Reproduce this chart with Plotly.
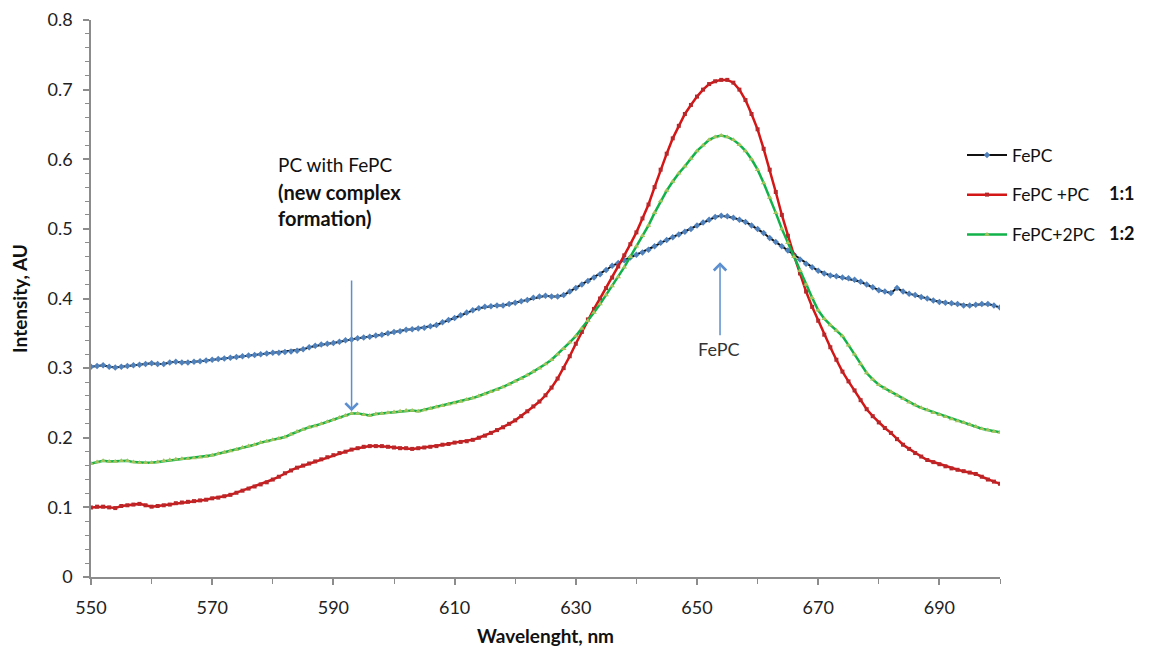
import plotly.graph_objects as go

wavelength = list(range(550, 701))

fepc = [
    0.302, 0.303, 0.304, 0.302, 0.301, 0.302, 0.303, 0.304, 0.305, 0.306,
    0.307, 0.306, 0.306, 0.308, 0.309, 0.308, 0.308, 0.309, 0.310, 0.311,
    0.312, 0.313, 0.314, 0.315, 0.316, 0.317, 0.318, 0.319, 0.320, 0.321,
    0.322, 0.322, 0.323, 0.324, 0.325, 0.327, 0.330, 0.332, 0.334, 0.335,
    0.336, 0.338, 0.340, 0.341, 0.343, 0.344, 0.345, 0.347, 0.348, 0.350,
    0.352, 0.353, 0.355, 0.356, 0.357, 0.358, 0.360, 0.362, 0.366, 0.369,
    0.372, 0.376, 0.380, 0.383, 0.386, 0.388, 0.389, 0.390, 0.390, 0.392,
    0.394, 0.396, 0.398, 0.401, 0.403, 0.404, 0.403, 0.403, 0.405, 0.410,
    0.415, 0.420, 0.425, 0.430, 0.435, 0.441, 0.447, 0.451, 0.455, 0.459,
    0.463, 0.466, 0.470, 0.475, 0.480, 0.484, 0.488, 0.492, 0.496, 0.500,
    0.505, 0.509, 0.513, 0.517, 0.519, 0.518, 0.516, 0.513, 0.510, 0.505,
    0.500, 0.494, 0.487, 0.481, 0.475, 0.469, 0.463, 0.456, 0.450, 0.445,
    0.440, 0.436, 0.433, 0.432, 0.430, 0.429, 0.427, 0.424, 0.420, 0.416,
    0.412, 0.410, 0.408, 0.415, 0.410, 0.407, 0.405, 0.402, 0.400, 0.397,
    0.395, 0.394, 0.393, 0.392, 0.390, 0.390, 0.391, 0.392, 0.392, 0.390,
    0.387,
]

fepc_pc = [
    0.100, 0.101, 0.101, 0.100, 0.099, 0.102, 0.103, 0.104, 0.105, 0.103,
    0.101, 0.102, 0.103, 0.104, 0.106, 0.107, 0.108, 0.109, 0.110, 0.111,
    0.113, 0.114, 0.116, 0.118, 0.121, 0.124, 0.127, 0.130, 0.133, 0.136,
    0.140, 0.144, 0.149, 0.153, 0.157, 0.160, 0.163, 0.166, 0.169, 0.172,
    0.175, 0.178, 0.180, 0.183, 0.185, 0.187, 0.188, 0.188, 0.188, 0.187,
    0.186, 0.185, 0.185, 0.184, 0.185, 0.186, 0.187, 0.188, 0.190, 0.191,
    0.193, 0.194, 0.195, 0.197, 0.200, 0.203, 0.207, 0.211, 0.215, 0.220,
    0.225, 0.231, 0.238, 0.245, 0.252, 0.261, 0.272, 0.285, 0.300, 0.317,
    0.335, 0.352, 0.370, 0.385, 0.400, 0.415, 0.430, 0.446, 0.462, 0.478,
    0.495, 0.515, 0.535, 0.560, 0.585, 0.608, 0.630, 0.648, 0.665, 0.678,
    0.690, 0.700, 0.708, 0.712, 0.714, 0.714, 0.710, 0.700, 0.685, 0.665,
    0.643, 0.615, 0.585, 0.553, 0.520, 0.490, 0.462, 0.436, 0.410, 0.388,
    0.368, 0.348, 0.330, 0.312, 0.295, 0.281, 0.268, 0.254, 0.241, 0.231,
    0.222, 0.214, 0.207, 0.198, 0.190, 0.184, 0.178, 0.173, 0.168, 0.165,
    0.162, 0.159, 0.156, 0.154, 0.152, 0.150, 0.148, 0.144, 0.140, 0.137,
    0.134,
]

fepc_2pc = [
    0.163, 0.165, 0.167, 0.166, 0.166, 0.167, 0.167, 0.165, 0.164, 0.164,
    0.164, 0.165, 0.167, 0.168, 0.169, 0.170, 0.170, 0.171, 0.172, 0.173,
    0.175, 0.177, 0.179, 0.181, 0.183, 0.186, 0.188, 0.190, 0.193, 0.195,
    0.197, 0.199, 0.201, 0.205, 0.209, 0.212, 0.215, 0.217, 0.220, 0.223,
    0.226, 0.229, 0.232, 0.235, 0.235, 0.233, 0.232, 0.234, 0.235, 0.236,
    0.237, 0.238, 0.239, 0.239, 0.238, 0.240, 0.242, 0.244, 0.246, 0.248,
    0.250, 0.252, 0.255, 0.257, 0.260, 0.263, 0.266, 0.269, 0.273, 0.277,
    0.281, 0.285, 0.290, 0.295, 0.300, 0.306, 0.312, 0.320, 0.328, 0.337,
    0.346, 0.357, 0.368, 0.380, 0.392, 0.405, 0.418, 0.431, 0.445, 0.460,
    0.475, 0.490, 0.505, 0.523, 0.540, 0.555, 0.568, 0.580, 0.590, 0.601,
    0.612, 0.620, 0.628, 0.632, 0.634, 0.632, 0.628, 0.621, 0.612, 0.600,
    0.585, 0.566, 0.545, 0.523, 0.500, 0.480, 0.460, 0.440, 0.420, 0.401,
    0.383, 0.371, 0.362, 0.354, 0.346, 0.333, 0.320, 0.306, 0.293, 0.284,
    0.276, 0.271, 0.266, 0.261, 0.256, 0.251, 0.247, 0.243, 0.240, 0.236,
    0.233, 0.230, 0.227, 0.224, 0.222, 0.219, 0.216, 0.213, 0.211, 0.209,
    0.208,
]

series_names = ["FePC", "FePC +PC", "FePC+2PC"]
x_tick_vals = [550, 570, 590, 610, 630, 650, 670, 690]
y_tick_vals = [0, 0.1, 0.2, 0.3, 0.4, 0.5, 0.6, 0.7, 0.8]
y_tick_text = ["0", "0.1", "0.2", "0.3", "0.4", "0.5", "0.6", "0.7", "0.8"]

FONT = "Lato, 'Open Sans', sans-serif"
AXIS_GREY = "#8c8c8c"

# page body has an 8px default margin; the figure is sized to fit after it
OFF = 8
W, H = 1152 - OFF, 649 - OFF
# desired plot area in page pixels: x 91..1000, y 20..577
L, T = 91 - OFF, 20 - OFF
R = W - (1000 - OFF)
B = H - (577 - OFF)
pw, ph = W - L - R, H - T - B


def px_to_paper(px, py):
    return (px - OFF - L) / pw, (H - B - (py - OFF)) / ph


fig = go.Figure()
fig.add_trace(go.Scatter(
    x=wavelength, y=fepc, name=series_names[0], mode="lines+markers",
    line=dict(color="#111111", width=2),
    marker=dict(symbol="diamond", size=5, color="#4f81bd"),
    legendgroup="a"))
fig.add_trace(go.Scatter(
    x=wavelength, y=fepc_pc, name=series_names[1], mode="lines+markers",
    line=dict(color="#d41616", width=2.5),
    marker=dict(symbol="square", size=4, color="#b8272a"),
    legendgroup="b"))
fig.add_trace(go.Scatter(
    x=wavelength, y=fepc_2pc, name=series_names[2], mode="lines+markers",
    line=dict(color="#12b24a", width=2.5),
    marker=dict(symbol="triangle-up", size=5, color="#a5c35a"),
    legendgroup="c"))

arrow_color = "#5b8fd0"
fig.add_annotation(x=593, y=0.238, ax=593, ay=0.428, xref="x", yref="y",
                   axref="x", ayref="y", showarrow=True, arrowhead=4,
                   arrowsize=1.6, arrowwidth=1.5, arrowcolor=arrow_color, text="")
fig.add_annotation(x=653.8, y=0.452, ax=653.8, ay=0.345, xref="x", yref="y",
                   axref="x", ayref="y", showarrow=True, arrowhead=4,
                   arrowsize=1.6, arrowwidth=1.5, arrowcolor=arrow_color, text="")

fig.add_annotation(x=580.5, y=0.592, xref="x", yref="y", showarrow=False,
                   xanchor="left", yanchor="middle",
                   text="PC with FePC", font=dict(family=FONT, size=19, color="#111111"))
fig.add_annotation(x=580.5, y=0.553, xref="x", yref="y", showarrow=False,
                   xanchor="left", yanchor="middle",
                   text="<b>(new complex</b>", font=dict(family=FONT, size=20, color="#111111"))
fig.add_annotation(x=580.5, y=0.516, xref="x", yref="y", showarrow=False,
                   xanchor="left", yanchor="middle",
                   text="<b>formation)</b>", font=dict(family=FONT, size=20, color="#111111"))
fig.add_annotation(x=653.5, y=0.327, xref="x", yref="y", showarrow=False,
                   xanchor="center", yanchor="middle",
                   text="FePC", font=dict(family=FONT, size=18, color="#333333"))

for label, py in (("1:1", 193), ("1:2", 233)):
    ax_, ay_ = px_to_paper(1122, py)
    fig.add_annotation(x=ax_, y=ay_, xref="paper", yref="paper", showarrow=False,
                       xanchor="center", yanchor="middle",
                       text="<b>" + label + "</b>",
                       font=dict(family=FONT, size=18, color="#111111"))

lx, ly = px_to_paper(962, 137)

fig.update_layout(
    width=W, height=H,
    margin=dict(l=L, r=R, t=T, b=B, autoexpand=False),
    paper_bgcolor="white", plot_bgcolor="white",
    font=dict(family=FONT, size=18, color="#222222"),
    showlegend=True,
    legend=dict(x=lx, y=ly, xanchor="left", yanchor="top",
                font=dict(family=FONT, size=17.5, color="#111111"),
                tracegroupgap=14, itemwidth=40, bgcolor="rgba(0,0,0,0)"),
    xaxis=dict(range=[550, 700], tickvals=x_tick_vals, automargin=False,
               showgrid=False, zeroline=False, ticklabeloverflow="allow",
               showline=True, linecolor=AXIS_GREY, linewidth=1.5,
               ticks="outside", ticklen=6, tickcolor=AXIS_GREY, tickwidth=1.5,
               ticklabelstandoff=8,
               minor=dict(dtick=10, tick0=550, ticks="outside", ticklen=5,
                          tickcolor=AXIS_GREY, tickwidth=1, showgrid=False),
               tickfont=dict(family=FONT, size=18, color="#222222"),
               title=dict(text="<b>Wavelenght, nm</b>", standoff=12,
                          font=dict(family=FONT, size=19, color="#111111"))),
    yaxis=dict(range=[0, 0.8], tickvals=y_tick_vals, ticktext=y_tick_text,
               automargin=False, ticklabeloverflow="allow",
               showgrid=False, zeroline=False,
               showline=True, linecolor=AXIS_GREY, linewidth=1.5,
               ticks="outside", ticklen=6, tickcolor=AXIS_GREY, tickwidth=1.5,
               ticklabelstandoff=7,
               minor=dict(dtick=0.02, tick0=0, ticks="outside", ticklen=4,
                          tickcolor=AXIS_GREY, tickwidth=1, showgrid=False),
               tickfont=dict(family=FONT, size=18, color="#222222"),
               title=dict(text="<b>Intensity, AU</b>", standoff=20,
                          font=dict(family=FONT, size=19, color="#111111"))),
)

fig.write_html("out.html")
